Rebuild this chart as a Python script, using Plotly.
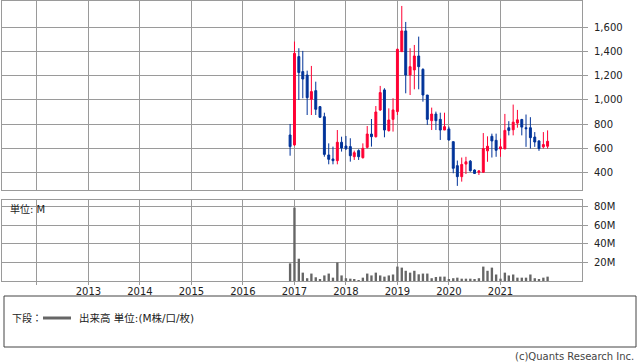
import pandas as pd
import plotly.graph_objects as go

W, H = 638, 362

months = pd.date_range("2016-12-01", periods=61, freq="MS")

open_ = [711, 629, 1358, 1234, 1206, 1006, 1077, 945, 862, 546, 513, 499,
         651, 620, 615, 532, 582, 524, 609, 719, 697, 917, 1083, 747,
         840, 904, 1399, 1570, 1206, 1248, 1363, 1253, 1041, 829, 884, 840,
         752, 761, 656, 458, 367, 471, 495, 422, 403, 403, 580, 700,
         667, 596, 596, 771, 754, 809, 839, 771, 771, 694, 662, 613, 618]
high = [802, 1482, 1427, 1405, 1242, 1281, 1151, 950, 895, 642, 615, 752,
        697, 703, 684, 582, 593, 642, 785, 843, 950, 1116, 1097, 931,
        1014, 1425, 1776, 1644, 1427, 1454, 1523, 1261, 1041, 937, 904, 895,
        895, 780, 656, 500, 525, 531, 504, 427, 422, 727, 700, 722,
        722, 681, 885, 825, 962, 918, 844, 880, 858, 735, 667, 735, 749]
low = [540, 620, 1000, 1014, 876, 876, 876, 855, 532, 469, 469, 469,
       574, 587, 491, 505, 505, 516, 600, 615, 690, 910, 692, 739,
       739, 876, 1399, 1055, 1041, 1088, 1088, 986, 794, 752, 752, 670,
       752, 665, 395, 291, 326, 389, 408, 389, 381, 400, 490, 525,
       531, 531, 596, 708, 708, 771, 708, 613, 599, 613, 580, 599, 599]
close = [615, 1385, 1226, 1173, 1019, 1069, 923, 857, 551, 510, 499, 651,
         604, 598, 540, 565, 532, 601, 719, 697, 901, 1061, 752, 835,
         918, 1418, 1570, 1206, 1275, 1363, 1275, 1041, 840, 884, 829, 752,
         780, 670, 436, 367, 468, 490, 416, 394, 414, 599, 618, 662,
         585, 613, 749, 749, 817, 836, 776, 763, 689, 653, 599, 632, 659]
volume_m = [19, 79, 24, 9, 3, 8, 4, 1.5, 6, 8, 3.6, 20,
            6, 3, 2.5, 1.4, 1, 3.6, 8, 6, 9, 6, 4.7, 6,
            7, 15.5, 14.4, 11, 9, 11, 7.2, 8, 8, 3, 4.3, 4.7,
            4.7, 1.8, 3, 3.6, 2.5, 2.5, 2.5, 1.8, 3, 15.5, 11, 14.4,
            7, 2.5, 9, 6, 7, 3.6, 3.6, 3.6, 7, 3, 1.4, 3.6, 4.7]

year_ticks = [f"{y}-01-01" for y in range(2012, 2022)]
year_labels = [""] + [str(y) for y in range(2013, 2022)]
price_ticks = [400, 600, 800, 1000, 1200, 1400, 1600]
vol_ticks = [20, 40, 60, 80]
vol_labels = ["20M", "40M", "60M", "80M"]

RED = "#ff0033"
BLUE = "#003399"
GRID = "#9a9a9a"
TXT = "#222222"
FONT = "DejaVu Sans, Noto Sans CJK JP"

def px(x):
    return x / W

def py(y):
    return 1 - y / H

fig = go.Figure()
fig.add_trace(go.Candlestick(
    x=months, open=open_, high=high, low=low, close=close,
    increasing=dict(line=dict(color=RED, width=1), fillcolor=RED),
    decreasing=dict(line=dict(color=BLUE, width=1), fillcolor=BLUE),
    whiskerwidth=0, showlegend=False, xaxis="x", yaxis="y"))
fig.add_trace(go.Bar(
    x=months, y=volume_m, marker=dict(color="#666666", line=dict(width=0)),
    showlegend=False, xaxis="x2", yaxis="y2"))

xrange = ["2011-04-29", "2022-08-02"]
xdom = [px(2), px(582)]
common_x = dict(type="date", range=xrange, domain=xdom, tickvals=year_ticks,
                ticktext=year_labels, showgrid=True, gridcolor=GRID, gridwidth=1,
                showline=True, linecolor=GRID, linewidth=1, mirror=True,
                zeroline=False)

fig.update_layout(
    width=W, height=H, margin=dict(l=0, r=0, t=0, b=0),
    paper_bgcolor="white", plot_bgcolor="white",
    font=dict(family=FONT, size=10, color=TXT),
    bargap=0.4,
    xaxis=dict(anchor="y", showticklabels=False, ticks="",
               rangeslider=dict(visible=False), **common_x),
    xaxis2=dict(anchor="y2", matches="x", showticklabels=True, ticks="outside",
                ticklen=3, tickcolor=GRID, ticklabelstandoff=-2,
                tickfont=dict(size=10, color=TXT), **common_x),
    yaxis=dict(domain=[py(190), py(0.5)], range=[257, 1821], side="right",
               tickvals=price_ticks, tickformat=",d", ticks="outside",
               ticklen=5, tickcolor=GRID, ticklabelstandoff=4,
               showgrid=True, gridcolor=GRID, showline=True, linecolor=GRID,
               mirror=True, zeroline=False, anchor="x",
               tickfont=dict(size=10, color=TXT)),
    yaxis2=dict(domain=[py(281), py(200)], range=[0, 87.2], side="right",
                tickvals=vol_ticks, ticktext=vol_labels, ticks="outside",
                ticklen=5, tickcolor=GRID, ticklabelstandoff=4,
                showgrid=True, gridcolor=GRID, showline=True, linecolor=GRID,
                mirror=True, zeroline=False, anchor="x2",
                tickfont=dict(size=10, color=TXT)),
)

fig.add_annotation(text="単位: M", xref="paper", yref="paper", x=px(8), y=py(209),
                   xanchor="left", yanchor="middle", showarrow=False,
                   font=dict(size=10, color=TXT, family=FONT))

# legend box
fig.add_shape(type="rect", xref="paper", yref="paper",
              x0=px(4), x1=px(636), y0=py(347), y1=py(296),
              line=dict(color="#444444", width=1), fillcolor="white", layer="below")
fig.add_shape(type="line", xref="paper", yref="paper",
              x0=px(43), x1=px(71), y0=py(318), y1=py(318),
              line=dict(color="#666666", width=3))
fig.add_annotation(text="下段：", xref="paper", yref="paper", x=px(10), y=py(318),
                   xanchor="left", yanchor="middle", showarrow=False,
                   font=dict(size=10, color=TXT, family=FONT))
fig.add_annotation(text="出来高 単位:(M株/口/枚)", xref="paper", yref="paper",
                   x=px(77), y=py(318), xanchor="left", yanchor="middle",
                   showarrow=False, font=dict(size=10.5, color=TXT, family=FONT))
fig.add_annotation(text="(c)Quants Research Inc.", xref="paper", yref="paper",
                   x=px(636), y=py(356), xanchor="right", yanchor="middle",
                   showarrow=False, font=dict(size=10, color="#444444", family=FONT))

fig.write_html("out.html")
